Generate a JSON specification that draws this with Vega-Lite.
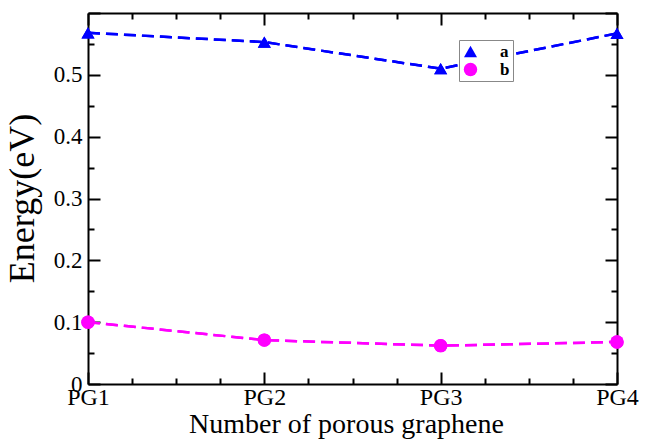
{
  "$schema": "https://vega.github.io/schema/vega-lite/v6.json",
  "width": 529,
  "height": 371,
  "autosize": "none",
  "padding": {"left": 88, "top": 13, "right": 29, "bottom": 56},
  "background": "white",
  "config": {
    "view": {"stroke": null},
    "font": "Liberation Serif",
    "axis": {
      "grid": false,
      "domainColor": "black",
      "domainWidth": 2,
      "tickColor": "black",
      "tickWidth": 2,
      "labelColor": "black",
      "titleColor": "black",
      "labelFont": "Liberation Serif",
      "titleFont": "Liberation Serif",
      "titleFontWeight": "normal"
    }
  },
  "data": {
    "values": [
      {"structure": "PG1", "n": 1, "series": "a", "energy": 0.568},
      {"structure": "PG2", "n": 2, "series": "a", "energy": 0.553},
      {"structure": "PG3", "n": 3, "series": "a", "energy": 0.510},
      {"structure": "PG4", "n": 4, "series": "a", "energy": 0.567},
      {"structure": "PG1", "n": 1, "series": "b", "energy": 0.100},
      {"structure": "PG2", "n": 2, "series": "b", "energy": 0.071},
      {"structure": "PG3", "n": 3, "series": "b", "energy": 0.062},
      {"structure": "PG4", "n": 4, "series": "b", "energy": 0.068}
    ]
  },
  "resolve": {"axis": {"x": "independent", "y": "independent"}},
  "layer": [
    {
      "mark": {"type": "line", "strokeWidth": 2.5, "strokeDash": [12, 6], "clip": false},
      "encoding": {
        "x": {
          "field": "n", "type": "quantitative",
          "scale": {"domain": [1, 4], "nice": false, "zero": false},
          "axis": {
            "orient": "bottom",
            "values": [1, 2, 3, 4],
            "tickSize": -12,
            "labelExpr": "'PG' + datum.value",
            "labelFontSize": 24,
            "labelPadding": 13,
            "labelFlush": false,
            "labelOverlap": false,
            "title": "Number of porous graphene",
            "titleFontSize": 28,
            "titleX": 258,
            "titleY": 48,
            "titleBaseline": "alphabetic",
            "titleAnchor": "middle"
          }
        },
        "y": {
          "field": "energy", "type": "quantitative",
          "scale": {"domain": [0, 0.6], "nice": false},
          "axis": {
            "orient": "left",
            "values": [0, 0.1, 0.2, 0.3, 0.4, 0.5, 0.6],
            "tickSize": -12,
            "labelExpr": "datum.value > 0.55 ? '' : (datum.value == 0 ? '0' : format(datum.value, '.1f'))",
            "labelFontSize": 23,
            "labelPadding": 18,
            "labelFlush": false,
            "labelOverlap": false,
            "title": "Energy(eV)",
            "titleFontSize": 36,
            "titleX": -55,
            "titleY": 185,
            "titleAngle": -90,
            "titleBaseline": "alphabetic",
            "titleAlign": "center"
          }
        },
        "color": {
          "field": "series", "type": "nominal",
          "scale": {"domain": ["a", "b"], "range": ["#0000ff", "#ff00ff"]},
          "legend": {
            "title": null,
            "orient": "none",
            "legendX": 371,
            "legendY": 27,
            "padding": 3,
            "strokeColor": "#888888",
            "fillColor": "white",
            "symbolSize": 400,
            "symbolStrokeWidth": 0,
            "labelOffset": 21,
            "rowPadding": 0,
            "labelFont": "Liberation Serif",
            "labelFontSize": 17,
            "labelFontWeight": "bold",
            "labelColor": "black"
          }
        }
      }
    },
    {
      "mark": {"type": "point", "filled": true, "opacity": 1, "clip": false},
      "encoding": {
        "x": {
          "field": "n", "type": "quantitative",
          "axis": {"orient": "top", "values": [1, 2, 3, 4], "tickSize": -12, "labels": false, "title": null}
        },
        "y": {
          "field": "energy", "type": "quantitative",
          "axis": {"orient": "right", "values": [0, 0.1, 0.2, 0.3, 0.4, 0.5, 0.6], "tickSize": -12, "labels": false, "title": null}
        },
        "color": {"field": "series", "type": "nominal"},
        "shape": {
          "field": "series", "type": "nominal",
          "scale": {"domain": ["a", "b"], "range": ["triangle-up", "circle"]},
          "legend": null
        },
        "size": {
          "field": "series", "type": "nominal",
          "scale": {"domain": ["a", "b"], "range": [170, 180]},
          "legend": null
        }
      }
    },
    {
      "mark": {"type": "line", "strokeWidth": 2.5, "strokeDash": [12, 6], "clip": false},
      "encoding": {
        "x": {
          "field": "n", "type": "quantitative",
          "axis": {"orient": "bottom", "values": [1.25, 1.5, 1.75, 2.25, 2.5, 2.75, 3.25, 3.5, 3.75], "tickSize": -6, "labels": false, "title": null, "domain": false}
        },
        "y": {
          "field": "energy", "type": "quantitative",
          "axis": {"orient": "left", "values": [0.05, 0.15, 0.25, 0.35, 0.45, 0.55], "tickSize": -6, "labels": false, "title": null, "domain": false}
        },
        "color": {"field": "series", "type": "nominal"}
      }
    },
    {
      "mark": {"type": "point", "filled": true, "opacity": 1, "clip": false},
      "encoding": {
        "x": {
          "field": "n", "type": "quantitative",
          "axis": {"orient": "top", "values": [1.25, 1.5, 1.75, 2.25, 2.5, 2.75, 3.25, 3.5, 3.75], "tickSize": -6, "labels": false, "title": null, "domain": false}
        },
        "y": {
          "field": "energy", "type": "quantitative",
          "axis": {"orient": "right", "values": [0.05, 0.15, 0.25, 0.35, 0.45, 0.55], "tickSize": -6, "labels": false, "title": null, "domain": false}
        },
        "color": {"field": "series", "type": "nominal"},
        "shape": {"field": "series", "type": "nominal", "legend": null},
        "size": {"field": "series", "type": "nominal", "legend": null}
      }
    }
  ]
}
